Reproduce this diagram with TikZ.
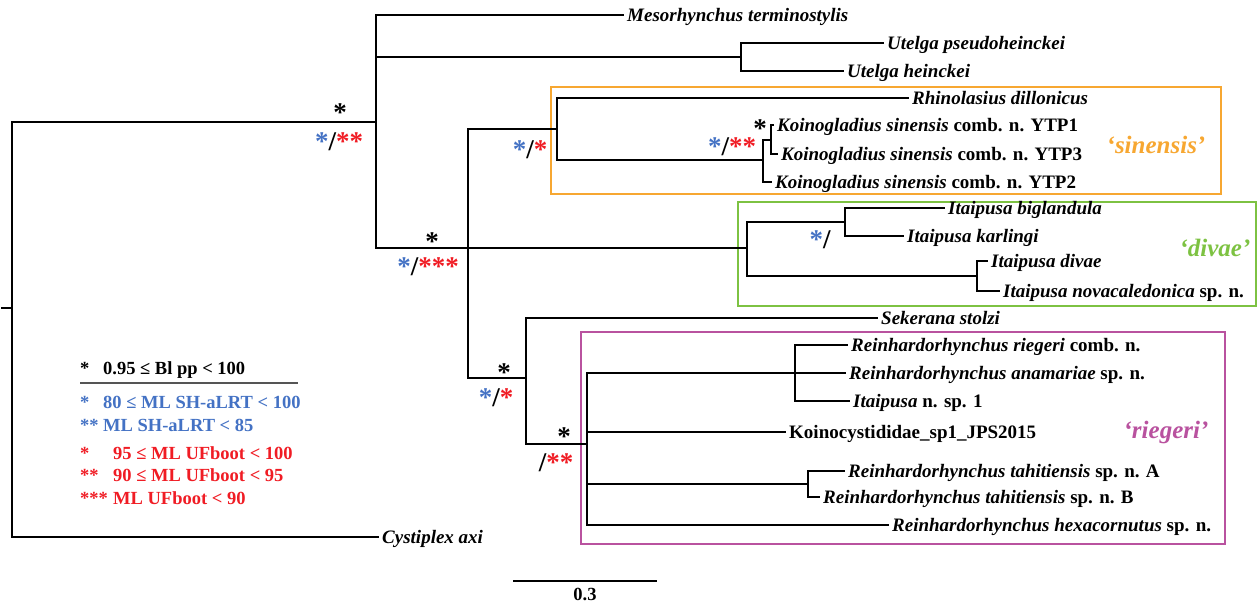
\documentclass[tikz,border=0pt]{standalone}
\usepackage{fontspec}
\setmainfont{Liberation Serif}
\definecolor{sblue}{HTML}{4472C4}
\definecolor{sred}{HTML}{F01C24}
\definecolor{sorange}{HTML}{F7A731}
\definecolor{sgreen}{HTML}{7DC242}
\definecolor{spurple}{HTML}{B9529F}
\definecolor{sgray}{HTML}{555555}
\begin{document}
\begin{tikzpicture}[x=1pt,y=-1pt,
  branch/.style={line width=2.8pt, line cap=rect, line join=miter},
  leaf/.style={anchor=west, inner xsep=4.5pt, inner ysep=0pt, text height=13pt, text depth=0pt,
    font=\fontsize{19}{22}\selectfont\bfseries},
  lab/.style={anchor=base, inner sep=0pt, text height=18pt, text depth=0pt, font=\fontsize{27}{27}\selectfont\bfseries},
  clade/.style={anchor=base, inner sep=0pt, font=\fontsize{25}{25}\selectfont\bfseries\itshape},
  leg/.style={anchor=base west, inner sep=0pt, font=\fontsize{18.5}{20}\selectfont\bfseries},
  cladebox/.style={draw, line width=2pt, anchor=north west, inner sep=0pt}]
\useasboundingbox (0,0) rectangle (1258,605);

% clade boxes
\node[cladebox, draw=sorange, minimum width=670pt, minimum height=107pt] (sinbox) at (550,86) {};
\node[cladebox, draw=sgreen, minimum width=518pt, minimum height=104pt] (divbox) at (737,201) {};
\node[cladebox, draw=spurple, minimum width=644pt, minimum height=212pt] (riebox) at (580,331) {};

% internal nodes
\coordinate (stub) at (2,308);
\coordinate (root) at (12,308);
\coordinate (nA) at (376,122);
\coordinate (nUt) at (741,57);
\coordinate (nB) at (468,248);
\coordinate (nSin) at (557,129);
\coordinate (nK) at (763,160);
\coordinate (nK2) at (771,140);
\coordinate (nDiv) at (747,248);
\coordinate (nBig) at (845,222);
\coordinate (nDv) at (977,276);
\coordinate (nR) at (526,378);
\coordinate (nRi) at (587,444);
\coordinate (nRg) at (795,373);
\coordinate (nTh) at (808,484);

% leaves
\node[leaf] (meso) at (622.5,15) {\textit{Mesorhynchus terminostylis}};
\node[leaf] (upsd) at (882.5,43) {\textit{Utelga pseudoheinckei}};
\node[leaf] (uhein) at (842.5,71) {\textit{Utelga heinckei}};
\node[leaf] (rhino) at (907.5,98) {\textit{Rhinolasius dillonicus}};
\node[leaf] (ytp1) at (772.5,125) {\textit{Koinogladius sinensis} comb. n. YTP1};
\node[leaf] (ytp3) at (776.5,154) {\textit{Koinogladius sinensis} comb. n. YTP3};
\node[leaf] (ytp2) at (770.5,182) {\textit{Koinogladius sinensis} comb. n. YTP2};
\node[leaf] (bigl) at (943.5,208) {\textit{Itaipusa biglandula}};
\node[leaf] (karl) at (902.5,236) {\textit{Itaipusa karlingi}};
\node[leaf] (divae) at (986.5,261) {\textit{Itaipusa divae}};
\node[leaf] (nova) at (998.5,291) {\textit{Itaipusa novacaledonica} sp. n.};
\node[leaf] (sek) at (876.5,318) {\textit{Sekerana stolzi}};
\node[leaf] (rieg) at (846.5,345) {\textit{Reinhardorhynchus riegeri} comb. n.};
\node[leaf] (anam) at (844.5,373) {\textit{Reinhardorhynchus anamariae} sp. n.};
\node[leaf] (itsp) at (848.5,401) {\textit{Itaipusa} n. sp. 1};
\node[leaf] (koino) at (784.5,432) {Koinocystididae\_sp1\_JPS2015};
\node[leaf] (tahA) at (843.5,471) {\textit{Reinhardorhynchus tahitiensis} sp. n. A};
\node[leaf] (tahB) at (818.5,497) {\textit{Reinhardorhynchus tahitiensis} sp. n. B};
\node[leaf] (hexa) at (887.5,525) {\textit{Reinhardorhynchus hexacornutus} sp. n.};
\node[leaf] (cyst) at (377.5,537) {\textit{Cystiplex axi}};

% branches
\draw[branch] (stub) -- (root);
\draw[branch] (root) |- (nA);
\draw[branch] (root) |- (cyst.west);
\draw[branch] (nA) |- (meso.west);
\draw[branch] (nA) |- (nUt);
\draw[branch] (nA) |- (nB);
\draw[branch] (nUt) |- (upsd.west);
\draw[branch] (nUt) |- (uhein.west);
\draw[branch] (nB) |- (nSin);
\draw[branch] (nB) |- (nDiv);
\draw[branch] (nB) |- (nR);
\draw[branch] (nSin) |- (rhino.west);
\draw[branch] (nSin) |- (nK);
\draw[branch] (nK) |- (nK2);
\draw[branch] (nK) |- (ytp2.west);
\draw[branch] (nK2) |- (ytp1.west);
\draw[branch] (nK2) |- (ytp3.west);
\draw[branch] (nDiv) |- (nBig);
\draw[branch] (nDiv) |- (nDv);
\draw[branch] (nBig) |- (bigl.west);
\draw[branch] (nBig) |- (karl.west);
\draw[branch] (nDv) |- (divae.west);
\draw[branch] (nDv) |- (nova.west);
\draw[branch] (nR) |- (sek.west);
\draw[branch] (nR) |- (nRi);
\draw[branch] (nRi) |- (nRg);
\draw[branch] (nRi) |- (koino.west);
\draw[branch] (nRi) |- (nTh);
\draw[branch] (nRi) |- (hexa.west);
\draw[branch] (nRg) |- (rieg.west);
\draw[branch] (nRg) |- (anam.west);
\draw[branch] (nRg) |- (itsp.west);
\draw[branch] (nTh) |- (tahA.west);
\draw[branch] (nTh) |- (tahB.west);

% support labels
\node[lab] (lA1) at (340,121.5) {*};
\node[lab] (lA2) at (339,150.5) {\textcolor{sblue}{*}/\textcolor{sred}{**}};
\node[lab] (lB1) at (432,250.5) {*};
\node[lab] (lB2) at (428,275.5) {\textcolor{sblue}{*}/\textcolor{sred}{***}};
\node[lab] (lS) at (530,158.5) {\textcolor{sblue}{*}/\textcolor{sred}{*}};
\node[lab] (lK1) at (760,137.5) {*};
\node[lab] (lK2) at (732,155.5) {\textcolor{sblue}{*}/\textcolor{sred}{**}};
\node[lab] (lBg) at (820,248.5) {\textcolor{sblue}{*}/};
\node[lab] (lR1) at (504,381.5) {*};
\node[lab] (lR2) at (496,406.5) {\textcolor{sblue}{*}/\textcolor{sred}{*}};
\node[lab] (lRi1) at (564,445.5) {*};
\node[lab] (lRi2) at (556,471) {/\textcolor{sred}{**}};

% clade names
\node[clade, text=sorange] (sinlab) at (1156,153) {‘sinensis’};
\node[clade, text=sgreen] (divlab) at (1215,256) {‘divae’};
\node[clade, text=spurple] (rielab) at (1166,438) {‘riegeri’};

% legend
\node[leg] (g1) at (80,374) {\makebox[23pt][l]{*}0.95 ≤ Bl pp < 100};
\coordinate (lg1) at (80,383);
\coordinate (lg2) at (298,383);
\draw[sgray, line width=1.3pt] (lg1) -- (lg2);
\node[leg, text=sblue] (g2) at (80,408) {\makebox[23pt][l]{*}80 ≤ ML SH-aLRT < 100};
\node[leg, text=sblue] (g3) at (80,431) {\makebox[23pt][l]{**}ML SH-aLRT < 85};
\node[leg, text=sred] (g4) at (80,459) {\makebox[33pt][l]{*}95 ≤ ML UFboot < 100};
\node[leg, text=sred] (g5) at (80,481.5) {\makebox[33pt][l]{**}90 ≤ ML UFboot < 95};
\node[leg, text=sred] (g6) at (80,504) {\makebox[33pt][l]{***}ML UFboot < 90};

% scale bar
\coordinate (sb1) at (513,581);
\coordinate (sb2) at (657,581);
\draw[line width=2pt] (sb1) -- (sb2);
\node[leg, anchor=base] (sbl) at (585,600) {0.3};
\end{tikzpicture}
\end{document}
